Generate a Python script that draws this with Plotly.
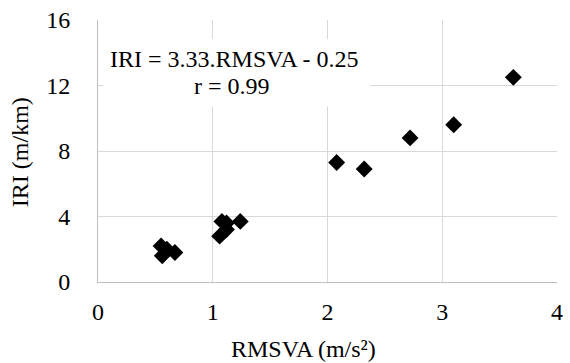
import plotly.graph_objects as go

rmsva = [0.55, 0.60, 0.67, 0.56, 1.08, 1.12, 1.24, 1.06, 1.12, 2.08, 2.32, 2.72, 3.10, 3.62]
iri = [2.2, 2.0, 1.8, 1.6, 3.7, 3.6, 3.7, 2.8, 3.2, 7.3, 6.9, 8.8, 9.6, 12.5]

x_ticks = [0, 1, 2, 3, 4]
y_ticks = [0, 4, 8, 12, 16]

FONT = "Liberation Serif, Times New Roman, serif"

fig = go.Figure()
fig.add_trace(go.Scatter(
    x=rmsva, y=iri, mode="markers",
    marker=dict(symbol="diamond", size=13, color="black", line=dict(width=0)),
    showlegend=False, cliponaxis=False, hoverinfo="skip",
))

fig.add_shape(type="rect", xref="x", yref="y", x0=0.047, x1=2.375, y0=10.7, y1=14.84,
              fillcolor="white", line=dict(width=0), layer="above")
fig.add_annotation(xref="x", yref="y", x=1.186, y=13.6, text="IRI = 3.33.RMSVA - 0.25",
                   showarrow=False, font=dict(family=FONT, size=24, color="black"))
fig.add_annotation(xref="x", yref="y", x=1.17, y=12.0, text="r = 0.99",
                   showarrow=False, font=dict(family=FONT, size=24, color="black"))

# axis titles
fig.add_annotation(xref="paper", yref="paper", x=0.448, y=-0.2548, text="RMSVA (m/s²)",
                   showarrow=False, xanchor="center", yanchor="middle",
                   font=dict(family=FONT, size=24, color="black"))
fig.add_annotation(xref="paper", yref="paper", x=-0.1708, y=0.494, text="IRI (m/km)",
                   showarrow=False, xanchor="center", yanchor="middle", textangle=-90,
                   font=dict(family=FONT, size=24, color="black"))

fig.update_layout(
    width=570, height=363,
    margin=dict(l=97.5, r=7, t=19, b=81),
    paper_bgcolor="white", plot_bgcolor="white",
    font=dict(family=FONT, size=24, color="black"),
    xaxis=dict(range=[0, 4.0005], tickvals=x_ticks, showgrid=True, gridcolor="#d9d9d9", gridwidth=1,
               showline=True, linecolor="#bfbfbf", linewidth=1, zeroline=False,
               ticks="", ticklabelstandoff=8, ticklabeloverflow="allow"),
    yaxis=dict(range=[0, 16.002], tickvals=y_ticks, showgrid=True, gridcolor="#d9d9d9", gridwidth=1,
               showline=True, linecolor="#bfbfbf", linewidth=1, zeroline=False,
               ticks="", ticklabelstandoff=22, ticklabeloverflow="allow"),
)

fig.write_html(
    "out.html",
    config={"displayModeBar": False},
    post_script="document.documentElement.style.overflow='hidden';document.body.style.margin='0';document.body.style.overflow='hidden';",
)
